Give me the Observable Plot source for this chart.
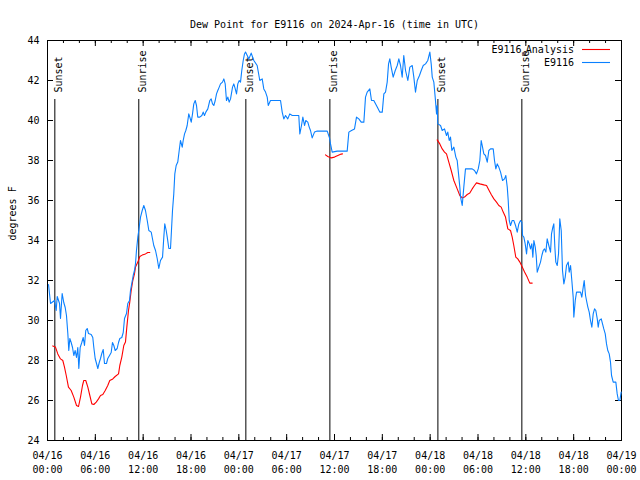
<!DOCTYPE html>
<html><head><meta charset="utf-8">
<script src="https://cdn.jsdelivr.net/npm/d3@7"></script>
<script src="https://cdn.jsdelivr.net/npm/@observablehq/plot@0.6"></script>
<style>body{margin:0;background:#fff} svg{display:block}</style>
</head><body><div id="chart"></div>
<script>
const title = "Dew Point for E9116 on 2024-Apr-16 (time in UTC)";
const yLabel = "degrees F";
const startUTC = Date.UTC(2024, 3, 16);

// E9116 observations: hours since 2024-04-16 00:00 UTC and dew point (F)
const stationHours = [
0.13,0.38,0.88,1.09,1.22,1.51,1.63,1.84,2.04,2.22,2.38,2.55,2.67,2.80,2.97,3.14,3.30,3.47,3.64,3.80,3.93,4.10,4.30,4.48,4.64,4.80,4.98,5.14,5.48,5.68,5.81,5.98,6.15,6.31,6.49,6.65,6.81,6.99,7.15,7.40,7.56,7.78,7.99,8.15,8.32,8.49,8.74,8.91,9.07,9.32,9.50,9.66,9.91,10.07,10.29,10.41,10.57,10.75,10.91,
11.04,11.16,11.33,11.45,11.67,11.88,12.08,12.29,12.51,12.71,13.01,13.21,13.33,13.55,13.76,13.96,14.17,14.43,14.59,14.71,14.89,15.02,15.22,15.43,15.55,15.68,15.84,15.97,16.14,16.34,16.52,16.68,16.90,17.02,17.19,17.35,17.52,17.72,17.85,18.03,18.19,18.35,18.53,18.69,18.85,19.10,19.36,19.53,19.69,19.86,20.11,20.36,20.53,20.70,20.86,21.04,21.20,21.36,21.54,21.70,21.95,22.12,22.29,22.45,22.62,22.79,22.96,23.21,23.37,23.55,23.71,23.87,24.05,24.21,24.37,24.55,24.71,24.84,25.26,25.55,25.88,26.30,26.63,26.93,27.13,27.35,27.56,27.69,27.97,29.23,29.44,29.64,29.86,30.14,30.39,30.70,31.52,31.65,31.86,32.03,32.24,32.40,32.65,32.83,32.99,33.20,33.49,33.83,35.09,35.37,35.50,35.71,36.34,37.59,37.80,38.13,38.51,38.76,39.05,39.35,39.68,39.89,40.10,40.43,40.64,40.93,41.36,41.68,41.99,42.19,42.40,42.61,42.78,42.94,43.11,43.36,43.62,43.87,44.07,44.28,44.49,44.69,44.91,45.20,45.45,45.75,45.95,46.16,46.38,46.66,46.88,47.13,47.42,47.70,47.96,48.13,48.26,48.46,48.63,48.80,48.88,48.96,49.30,49.51,49.80,50.05,50.21,50.39,50.55,50.72,50.97,51.22,51.39,51.56,51.72,51.81,52.02,52.22,52.43,53.27,53.56,53.81,54.03,54.23,54.40,54.57,54.73,54.94,55.16,55.36,55.57,55.91,56.07,56.24,56.41,56.61,56.83,57.08,57.33,57.49,57.67,57.79,57.92,58.08,58.29,58.49,58.71,58.92,59.12,59.33,59.50,59.59,59.75,59.92,60.09,60.25,60.43,60.59,60.75,60.88,61.01,61.18,61.30,61.43,61.63,61.84,62.01,62.18,62.34,62.51,62.68,62.88,63.10,63.22,63.39,63.51,63.64,63.76,63.94,64.10,64.26,64.44,64.60,64.77,64.94,65.10,65.32,65.44,65.61,65.77,65.94,66.02,66.20,66.36,66.86,67.02,67.20,67.32,67.49,67.61,67.78,67.95,68.11,68.28,68.45,68.62,68.78,68.96,69.08,69.21,69.46,69.62,69.78,69.96,70.12,70.28,70.46,70.62,70.75,70.96,71.29,71.46,71.62,71.79,71.96
];
const stationValues = [
31.8,30.85,31.0,30.5,31.2,30.85,30.1,31.35,30.9,30.65,30.25,29.35,28.5,29.1,28.9,28.65,28.25,28.5,28.15,28.65,27.6,28.65,28.9,29.15,28.75,29.5,29.6,29.35,29.3,29.15,28.65,28.1,27.85,27.6,27.9,28.1,28.35,28.55,27.85,27.85,28.1,28.25,28.4,28.9,28.75,28.5,28.6,28.9,29.1,29.15,29.4,30.1,30.35,30.85,31.0,31.5,31.85,32.25,32.5,
32.85,33.5,34.17,34.5,35.17,35.5,35.75,35.5,35.0,34.5,34.42,34.0,33.75,33.5,33.1,32.6,33.0,33.17,34.17,34.83,34.5,34.17,33.6,33.6,34.5,35.5,36.33,37.33,37.75,37.92,38.5,39.0,38.67,39.0,39.33,39.5,39.75,40.33,40.17,39.92,40.33,40.83,41.0,40.75,40.17,40.17,40.25,40.42,40.25,40.42,40.58,41.0,41.08,40.83,40.75,41.0,41.33,41.5,41.67,41.83,41.92,42.08,41.83,41.0,41.17,40.92,41.08,41.67,41.83,41.58,41.33,41.83,42.0,41.92,42.5,43.0,43.33,43.42,43.08,43.37,43.0,42.75,42.0,42.08,41.58,41.42,41.17,40.75,41.0,41.0,40.42,40.08,40.25,40.08,40.33,40.25,40.25,39.33,39.75,40.17,39.75,40.0,39.92,39.67,39.5,39.13,39.42,39.47,39.47,39.13,38.83,38.42,38.47,38.47,39.42,39.5,39.58,40.17,40.08,39.92,39.92,41.17,41.42,41.58,41.0,41.0,40.67,40.42,40.42,41.33,41.42,41.92,42.83,43.08,42.67,42.17,42.5,42.75,43.08,42.75,42.17,43.25,42.5,42.0,42.67,42.75,42.17,41.42,42.0,42.25,42.5,42.75,42.83,43.0,43.42,42.83,42.17,41.92,41.17,40.33,40.75,39.83,39.75,39.5,39.58,39.25,39.42,39.0,39.17,38.5,38.67,38.17,38.0,37.33,36.67,36.17,35.75,36.67,37.58,37.58,37.5,37.33,37.58,38.0,39.0,38.67,38.33,38.25,37.92,38.5,38.58,38.58,38.0,37.58,37.83,37.67,37.42,37.0,37.08,37.25,36.67,36.0,35.0,34.75,35.0,35.0,34.75,34.42,34.83,35.0,34.92,34.25,34.17,33.83,33.33,34.0,33.83,33.58,33.83,33.17,34.0,33.67,33.25,32.42,32.67,32.92,33.25,33.5,33.58,33.42,34.08,33.75,33.42,34.33,34.67,34.83,33.67,32.92,32.75,33.33,35.08,34.5,32.5,31.83,32.17,32.75,32.92,32.42,32.75,32.0,31.17,30.17,31.0,31.42,31.42,31.17,31.67,32.0,31.25,31.0,30.67,30.42,30.0,29.67,30.33,30.58,30.5,30.08,29.67,30.0,30.08,29.83,29.58,29.33,28.83,28.5,28.33,27.92,27.25,26.92,26.92,26.33,26.0,26.0,26.42
];

// E9116 Analysis (three separate runs, null = gap)
const analysisHours = [
0.66,1.00,1.29,1.63,1.92,2.13,2.35,2.63,2.97,3.30,3.64,3.89,4.14,4.39,4.55,4.80,5.06,5.31,5.56,5.81,6.11,6.40,6.65,6.94,7.24,7.56,7.81,8.19,8.49,8.91,9.07,9.32,9.57,9.78,9.95,10.16,10.32,10.50,10.70,10.91,11.04,11.33,11.58,11.88,12.29,12.58,12.83,
null,
34.87,35.16,35.59,36.00,36.42,36.84,37.00,
null,
48.88,49.21,49.51,49.80,50.05,50.34,50.64,50.97,51.39,51.72,52.02,52.31,52.65,52.97,53.27,53.56,53.81,54.23,54.73,55.07,55.36,55.66,55.99,56.32,56.61,56.91,57.16,57.45,57.74,58.08,58.29,58.49,58.74,58.99,59.25,59.55,59.84,60.17,60.50,60.80
];
const analysisValues = [
28.73,28.67,28.33,28.08,28.0,27.67,27.25,26.67,26.5,26.17,25.75,25.7,26.17,26.75,27.0,27.0,26.67,26.25,25.83,25.8,25.92,26.08,26.25,26.3,26.5,26.75,27.0,27.08,27.2,27.33,27.75,28.17,28.75,28.92,29.67,30.5,30.92,31.5,32.0,32.33,32.67,32.92,33.2,33.27,33.33,33.4,33.4,
null,
38.28,38.2,38.13,38.17,38.25,38.32,38.33,
null,
39.03,38.83,38.58,38.42,38.33,37.92,37.5,37.0,36.58,36.25,36.13,36.17,36.3,36.37,36.58,36.75,36.88,36.83,36.78,36.75,36.53,36.3,36.08,35.92,35.75,35.67,35.42,35.17,34.58,34.5,34.17,33.75,33.17,33.08,32.92,32.67,32.42,32.17,31.87,31.87
];

const eventHours = [0.92, 11.45, 24.88, 35.42, 48.97, 59.50];
const eventLabels = ["Sunset", "Sunrise", "Sunset", "Sunrise", "Sunset", "Sunrise"];

const xMajorHours = [0, 6, 12, 18, 24, 30, 36, 42, 48, 54, 60, 66, 72];
const xMinorHours = [0,2,4,6,8,10,12,14,16,18,20,22,24,26,28,30,32,34,36,38,40,42,44,46,48,50,52,54,56,58,60,62,64,66,68,70,72];
const yTicks = [24, 26, 28, 30, 32, 34, 36, 38, 40, 42, 44];
const seriesNames = ["E9116", "E9116"];
const seriesColors = ["#ff0000", "#0a80ff"];

const toDate = h => h == null ? null : new Date(startUTC + h * 3600000);
const station = stationHours.map((h, i) => ({t: toDate(h), v: stationValues[i]}));
const analysis = analysisHours.map((h, i) => ({t: toDate(h), v: analysisValues[i]}));
const events = eventHours.map((h, i) => ({t: toDate(h), label: eventLabels[i]}));
const xMajor = xMajorHours.map(toDate);
const xMinor = xMinorHours.map(toDate);

const W = 640, H = 480, mL = 47, mR = 19, mT = 40, mB = 40;
const fw = W - mL - mR, fh = H - mT - mB;
const fmt = d3.utcFormat("%m/%d\n%H:%M");

const chart = Plot.plot({
  width: W, height: H,
  marginLeft: mL, marginRight: mR, marginTop: mT, marginBottom: mB,
  style: {fontFamily: "'DejaVu Sans Mono', monospace", fontSize: "10px", color: "black", background: "white"},
  x: {type: "utc", domain: [toDate(0), toDate(72)], axis: null},
  y: {domain: [24, 44], axis: null},
  marks: [
    Plot.frame({stroke: "black"}),
    Plot.tickX(xMinor, {x: d => d, insetTop: fh - 3, stroke: "black"}),
    Plot.tickX(xMinor, {x: d => d, insetBottom: fh - 3, stroke: "black"}),
    Plot.tickX(xMajor, {x: d => d, insetTop: fh - 6, stroke: "black"}),
    Plot.tickX(xMajor, {x: d => d, insetBottom: fh - 6, stroke: "black"}),
    Plot.tickY(yTicks, {y: d => d, insetRight: fw - 6, stroke: "black"}),
    Plot.tickY(yTicks, {y: d => d, insetLeft: fw - 6, stroke: "black"}),
    Plot.axisX(xMajor, {anchor: "bottom", tickSize: 0, tickPadding: 8, tickFormat: fmt, lineHeight: 1.45, label: null}),
    Plot.axisY(yTicks, {anchor: "left", tickSize: 0, tickPadding: 8, label: null}),
    Plot.text([yLabel], {frameAnchor: "left", dx: -35, rotate: -90, fill: "black"}),
    Plot.text([title], {frameAnchor: "top", dy: -20, fill: "black"}),
    Plot.tickX(events, {x: "t", insetTop: 59, stroke: "black"}),
    Plot.text(events, {x: "t", text: "label", frameAnchor: "top", dy: 52, rotate: -90, textAnchor: "start", fill: "black"}),
    Plot.line(analysis, {x: "t", y: "v", stroke: seriesColors[0], strokeWidth: 1.1}),
    Plot.line(station, {x: "t", y: "v", stroke: seriesColors[1], strokeWidth: 1.1})
  ]
});
document.getElementById("chart").appendChild(chart);

// Legend (top-right, inside the frame)
const svg = d3.select(chart);
const lg = svg.append("g").attr("font-family", "'DejaVu Sans Mono', monospace").attr("font-size", 10).attr("fill", "black");
const rows = [50, 63];
const t1 = lg.append("text").attr("x", 574).attr("y", rows[0]).attr("dy", "0.32em").attr("text-anchor", "end");
t1.append("tspan").text(seriesNames[0]);
t1.append("tspan").attr("font-size", 7).attr("dy", "0.35em").text("u");
t1.append("tspan").attr("dy", "-0.25em").text("Analysis");
lg.append("text").attr("x", 574).attr("y", rows[1]).attr("dy", "0.32em").attr("text-anchor", "end").text(seriesNames[1]);
rows.forEach((y, i) => {
  lg.append("line").attr("x1", 582).attr("x2", 610).attr("y1", y - 0.5).attr("y2", y - 0.5)
    .attr("stroke", seriesColors[i]).attr("stroke-width", 1.1);
});
</script>
</body></html>
